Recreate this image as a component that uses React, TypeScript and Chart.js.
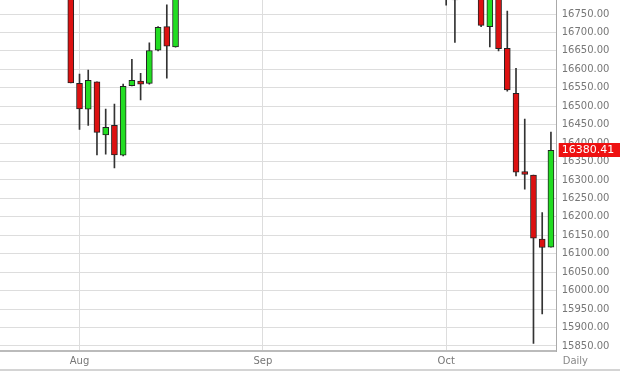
import React, { useEffect, useRef } from "react";
import { Chart, registerables } from "chart.js";

Chart.register(...registerables);

// All trading days covered by the visible time window
const tradingDays: string[] = [
  "2014-07-21", "2014-07-22", "2014-07-23", "2014-07-24", "2014-07-25",
  "2014-07-28", "2014-07-29", "2014-07-30", "2014-07-31",
  "2014-08-01", "2014-08-04", "2014-08-05", "2014-08-06", "2014-08-07", "2014-08-08",
  "2014-08-11", "2014-08-12", "2014-08-13", "2014-08-14", "2014-08-15",
  "2014-08-18", "2014-08-19", "2014-08-20", "2014-08-21", "2014-08-22",
  "2014-08-25", "2014-08-26", "2014-08-27", "2014-08-28", "2014-08-29",
  "2014-09-02", "2014-09-03", "2014-09-04", "2014-09-05",
  "2014-09-08", "2014-09-09", "2014-09-10", "2014-09-11", "2014-09-12",
  "2014-09-15", "2014-09-16", "2014-09-17", "2014-09-18", "2014-09-19",
  "2014-09-22", "2014-09-23", "2014-09-24", "2014-09-25", "2014-09-26",
  "2014-09-29", "2014-09-30",
  "2014-10-01", "2014-10-02", "2014-10-03", "2014-10-06", "2014-10-07",
  "2014-10-08", "2014-10-09", "2014-10-10", "2014-10-13", "2014-10-14",
  "2014-10-15", "2014-10-16", "2014-10-17",
];

// Candles that reach into the visible price window
const candleDates: string[] = [
  "2014-07-31", "2014-08-01", "2014-08-04", "2014-08-05", "2014-08-06",
  "2014-08-07", "2014-08-08", "2014-08-11", "2014-08-12", "2014-08-13",
  "2014-08-14", "2014-08-15", "2014-08-18",
  "2014-10-01", "2014-10-02", "2014-10-07", "2014-10-08", "2014-10-09",
  "2014-10-10", "2014-10-13", "2014-10-14", "2014-10-15", "2014-10-16",
  "2014-10-17",
];
const opens: number[] = [
  16880, 16562, 16492, 16566, 16422, 16448, 16367, 16556, 16566, 16562,
  16652, 16716, 16661,
  17040, 16800, 16991, 16716, 16993, 16657, 16535, 16322, 16313, 16140, 16118,
];
const highs: number[] = [
  16881, 16587, 16598, 16566, 16492, 16506, 16560, 16627, 16589, 16672,
  16716, 16775, 16840,
  17045, 16820, 16992, 17000, 16994, 16758, 16603, 16465, 16313, 16212, 16430,
];
const lows: number[] = [
  16563, 16437, 16448, 16368, 16370, 16333, 16365, 16555, 16517, 16560,
  16650, 16576, 16660,
  16774, 16673, 16716, 16661, 16650, 16541, 16311, 16275, 15857, 15937, 16118,
];
const closes: number[] = [
  16563, 16493, 16570, 16429, 16443, 16368, 16554, 16570, 16560, 16651,
  16714, 16663, 16839,
  16805, 16801, 16719, 16994, 16656, 16544, 16321, 16315, 16142, 16117, 16380.41,
];

const monthNames: string[] = ["Jan", "Feb", "Mar", "Apr", "May", "Jun", "Jul", "Aug", "Sep", "Oct", "Nov", "Dec"];
const yTickValues: number[] = [
  15850, 15900, 15950, 16000, 16050, 16100, 16150, 16200, 16250, 16300,
  16350, 16400, 16450, 16500, 16550, 16600, 16650, 16700, 16750, 16800,
];
const lastPrice = closes[closes.length - 1];
const periodLabel = "Daily";

const UP = "#22dd22";
const DOWN = "#dd1111";

export default function App() {
  const ref = useRef<HTMLCanvasElement | null>(null);

  useEffect(() => {
    const canvas = ref.current;
    if (!canvas) return;

    const xs = candleDates.map((d) => tradingDays.indexOf(d));
    const up = opens.map((o, i) => closes[i] >= o);

    // first trading day of each month (except the first partial month)
    const monthStarts: number[] = [];
    tradingDays.forEach((d, i) => {
      if (i > 0 && d.slice(5, 7) !== tradingDays[i - 1].slice(5, 7)) monthStarts.push(i);
    });

    const overlay = {
      id: "overlay",
      afterDraw(chart: any) {
        const { ctx, chartArea, scales } = chart;
        ctx.save();
        // last price tag
        const y = scales.y.getPixelForValue(lastPrice);
        ctx.fillStyle = "#ee1111";
        ctx.fillRect(chartArea.right + 2, Math.round(y) - 7, 70, 14);
        ctx.fillStyle = "#ffffff";
        ctx.font = "11px 'DejaVu Sans'";
        ctx.textBaseline = "middle";
        ctx.textAlign = "left";
        ctx.fillText(lastPrice.toFixed(2), chartArea.right + 5, Math.round(y) + 0.5);
        // period label
        ctx.fillStyle = "#888888";
        ctx.font = "10px 'DejaVu Sans'";
        ctx.fillText(periodLabel, chartArea.right + 6, chartArea.bottom + 10);
        // bottom frame band
        ctx.fillStyle = "#d4d4d4";
        ctx.fillRect(0, chart.height - 2, chart.width, 2);
        ctx.restore();
      },
    };

    const chart = new Chart(canvas, {
      type: "bar",
      data: {
        datasets: [
          {
            label: "wick",
            data: xs.map((x, i) => ({ x, y: [lows[i], highs[i]] })) as any,
            backgroundColor: "#333333",
            borderWidth: 0,
            barThickness: 1,
            grouped: false,
            order: 1,
          } as any,
          {
            label: "body",
            data: xs.map((x, i) => ({ x, y: [opens[i], closes[i]] })) as any,
            backgroundColor: up.map((u) => (u ? UP : DOWN)),
            borderColor: "#222222",
            borderWidth: 1,
            borderSkipped: false,
            barThickness: 6,
            minBarLength: 3,
            grouped: false,
            order: 0,
          } as any,
        ],
      },
      options: {
        animation: false,
        responsive: false,
        maintainAspectRatio: false,
        layout: { padding: 0 },
        plugins: { legend: { display: false }, tooltip: { enabled: false } },
        scales: {
          x: {
            type: "linear",
            min: -0.107,
            max: 63.66,
            offset: false,
            grid: { color: "#dddddd", lineWidth: 1, offset: false, drawTicks: false },
            border: { color: "#bbbbbb", width: 2 },
            ticks: {
              autoSkip: false,
              maxRotation: 0,
              padding: 4,
              color: "#777777",
              font: { family: "DejaVu Sans", size: 10 },
              callback: (v: any) => {
                const d = tradingDays[Math.round(Number(v))];
                return d ? monthNames[Number(d.slice(5, 7)) - 1] : "";
              },
            },
            afterBuildTicks: (scale: any) => {
              scale.ticks = monthStarts.map((i) => ({ value: i }));
            },
            afterFit: (scale: any) => {
              scale.height = 20;
              scale.paddingLeft = 0;
              scale.paddingRight = 0;
            },
          } as any,
          y: {
            position: "right",
            min: 15836.4,
            max: 16788,
            grid: { color: "#dddddd", lineWidth: 1, drawTicks: false },
            border: { color: "#aaaaaa", width: 1 },
            ticks: {
              autoSkip: false,
              padding: 5,
              color: "#777777",
              font: { family: "DejaVu Sans", size: 10 },
              callback: (v: any) => Number(v).toFixed(2),
            },
            afterBuildTicks: (scale: any) => {
              scale.ticks = yTickValues.map((v) => ({ value: v }));
            },
            afterFit: (scale: any) => {
              scale.width = 63.3;
              scale.paddingTop = 0;
              scale.paddingBottom = 0;
            },
          } as any,
        },
      },
      plugins: [overlay],
    });

    return () => chart.destroy();
  }, []);

  return (
    <div style={{ position: "fixed", left: 0, top: 0, width: 620, height: 371, background: "#fff" }}>
      <canvas ref={ref} width={620} height={371} style={{ display: "block", width: 620, height: 371 }} />
    </div>
  );
}
